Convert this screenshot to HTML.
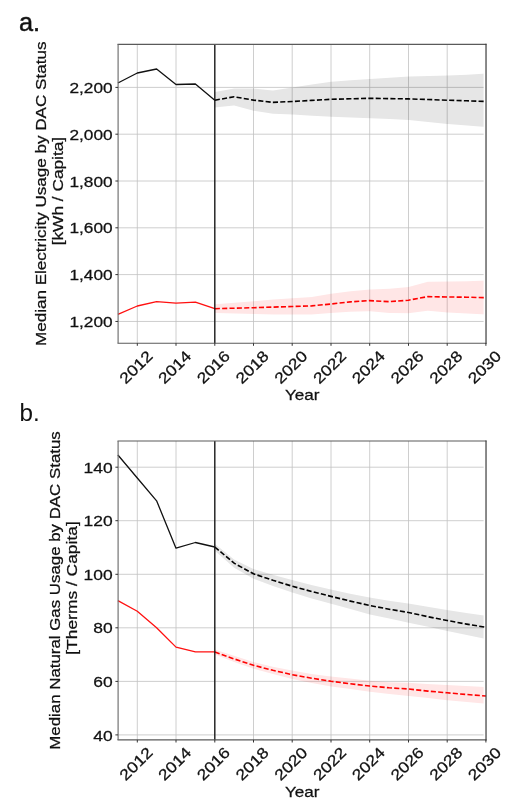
<!DOCTYPE html>
<html><head><meta charset="utf-8"><title>Figure</title>
<style>
html,body{margin:0;padding:0;background:#fff;}
body{width:520px;height:811px;overflow:hidden;font-family:"Liberation Sans",sans-serif;}
svg{display:block;}
svg text{font-family:"Liberation Sans",sans-serif;fill:#111;stroke:#111;stroke-width:0.26px;}
svg text.pl{stroke:none;}
</style></head>
<body>
<svg width="520" height="811" viewBox="0 0 520 811">
<rect width="520" height="811" fill="#fff"/>
<g opacity="0.999">
<text x="18.9" y="30.8" font-size="25.3" style="stroke-width:0.45px">a.</text>
<text class="pl" x="19.5" y="420.8" font-size="24.2">b.</text>
<line x1="137.3" y1="44.3" x2="137.3" y2="343.2" stroke="#c2c2c2" stroke-width="0.8"/>
<line x1="176.0" y1="44.3" x2="176.0" y2="343.2" stroke="#c2c2c2" stroke-width="0.8"/>
<line x1="214.8" y1="44.3" x2="214.8" y2="343.2" stroke="#c2c2c2" stroke-width="0.8"/>
<line x1="253.5" y1="44.3" x2="253.5" y2="343.2" stroke="#c2c2c2" stroke-width="0.8"/>
<line x1="292.2" y1="44.3" x2="292.2" y2="343.2" stroke="#c2c2c2" stroke-width="0.8"/>
<line x1="331.0" y1="44.3" x2="331.0" y2="343.2" stroke="#c2c2c2" stroke-width="0.8"/>
<line x1="369.7" y1="44.3" x2="369.7" y2="343.2" stroke="#c2c2c2" stroke-width="0.8"/>
<line x1="408.5" y1="44.3" x2="408.5" y2="343.2" stroke="#c2c2c2" stroke-width="0.8"/>
<line x1="447.2" y1="44.3" x2="447.2" y2="343.2" stroke="#c2c2c2" stroke-width="0.8"/>
<line x1="485.9" y1="44.3" x2="485.9" y2="343.2" stroke="#c2c2c2" stroke-width="0.8"/>
<line x1="118.0" y1="87.4" x2="486.0" y2="87.4" stroke="#c2c2c2" stroke-width="0.8"/>
<line x1="118.0" y1="134.2" x2="486.0" y2="134.2" stroke="#c2c2c2" stroke-width="0.8"/>
<line x1="118.0" y1="181.0" x2="486.0" y2="181.0" stroke="#c2c2c2" stroke-width="0.8"/>
<line x1="118.0" y1="227.8" x2="486.0" y2="227.8" stroke="#c2c2c2" stroke-width="0.8"/>
<line x1="118.0" y1="274.6" x2="486.0" y2="274.6" stroke="#c2c2c2" stroke-width="0.8"/>
<line x1="118.0" y1="321.45" x2="486.0" y2="321.45" stroke="#c2c2c2" stroke-width="0.8"/>
<polygon points="214.8,91.9 234.1,88.5 253.5,88.5 272.9,90.4 292.2,87.5 311.6,84.5 331.0,81.8 350.3,80.3 369.7,79.0 389.1,77.7 408.5,76.5 427.8,76.0 447.2,75.4 466.6,74.8 485.9,73.5 485.9,126.9 466.6,125.4 447.2,123.9 427.8,121.9 408.5,119.9 389.1,119.0 369.7,118.2 350.3,117.5 331.0,116.7 311.6,115.7 292.2,114.6 272.9,113.8 253.5,110.7 234.1,105.5 214.8,107.6" fill="#000" fill-opacity="0.1"/>
<polygon points="214.8,304.3 234.1,302.8 253.5,301.3 272.9,299.6 292.2,298.2 311.6,297.0 331.0,293.8 350.3,291.3 369.7,289.6 389.1,288.8 408.5,286.9 427.8,281.8 447.2,281.6 466.6,281.2 485.9,280.5 485.9,314.6 466.6,313.5 447.2,312.5 427.8,310.8 408.5,313.3 389.1,312.9 369.7,311.2 350.3,311.8 331.0,312.9 311.6,314.6 292.2,314.6 272.9,314.4 253.5,314.0 234.1,313.5 214.8,312.9" fill="#f00" fill-opacity="0.1"/>
<rect x="483.6" y="44.3" width="2.4" height="298.9" fill="#fff"/>
<polyline points="117.9,83.0 137.3,73.0 156.6,69.0 176.0,84.5 195.4,84.0 214.8,100.2" fill="none" stroke="#111" stroke-width="1.3" stroke-linejoin="round"/>
<polyline points="117.9,314.4 137.3,306.0 156.6,301.7 176.0,303.2 195.4,302.2 214.8,308.7" fill="none" stroke="#ff1010" stroke-width="1.3" stroke-linejoin="round"/>
<polyline points="214.8,100.2 234.1,96.8 253.5,100.1 272.9,102.4 292.2,101.5 311.6,100.4 331.0,99.3 350.3,98.8 369.7,98.3 389.1,98.6 408.5,98.9 427.8,99.5 447.2,100.2 466.6,100.8 485.9,101.5" fill="none" stroke="#000" stroke-width="1.6" stroke-dasharray="5.1 2.25"/>
<polyline points="214.8,308.7 234.1,308.2 253.5,307.7 272.9,307.1 292.2,306.5 311.6,305.9 331.0,304.0 350.3,301.9 369.7,300.6 389.1,301.7 408.5,300.2 427.8,296.6 447.2,297.0 466.6,297.2 485.9,297.7" fill="none" stroke="#f00" stroke-width="1.6" stroke-dasharray="5.1 2.25"/>
<line x1="214.8" y1="44.3" x2="214.8" y2="343.2" stroke="#111" stroke-width="1.3"/>
<line x1="117.5" y1="44.3" x2="486.5" y2="44.3" stroke="#5a5a5a" stroke-width="1.15"/>
<line x1="117.5" y1="343.2" x2="486.5" y2="343.2" stroke="#5a5a5a" stroke-width="1.15"/>
<line x1="118.1" y1="44.3" x2="118.1" y2="343.2" stroke="#6e6e6e" stroke-width="1.15"/>
<line x1="486.0" y1="43.8" x2="486.0" y2="343.7" stroke="#3c3c3c" stroke-width="1.15"/>
<line x1="137.3" y1="343.2" x2="137.3" y2="345.8" stroke="#333" stroke-width="1"/>
<line x1="176.0" y1="343.2" x2="176.0" y2="345.8" stroke="#333" stroke-width="1"/>
<line x1="214.8" y1="343.2" x2="214.8" y2="345.8" stroke="#333" stroke-width="1"/>
<line x1="253.5" y1="343.2" x2="253.5" y2="345.8" stroke="#333" stroke-width="1"/>
<line x1="292.2" y1="343.2" x2="292.2" y2="345.8" stroke="#333" stroke-width="1"/>
<line x1="331.0" y1="343.2" x2="331.0" y2="345.8" stroke="#333" stroke-width="1"/>
<line x1="369.7" y1="343.2" x2="369.7" y2="345.8" stroke="#333" stroke-width="1"/>
<line x1="408.5" y1="343.2" x2="408.5" y2="345.8" stroke="#333" stroke-width="1"/>
<line x1="447.2" y1="343.2" x2="447.2" y2="345.8" stroke="#333" stroke-width="1"/>
<line x1="485.9" y1="343.2" x2="485.9" y2="345.8" stroke="#333" stroke-width="1"/>
<line x1="115.4" y1="87.4" x2="118.0" y2="87.4" stroke="#333" stroke-width="1"/>
<line x1="115.4" y1="134.2" x2="118.0" y2="134.2" stroke="#333" stroke-width="1"/>
<line x1="115.4" y1="181.0" x2="118.0" y2="181.0" stroke="#333" stroke-width="1"/>
<line x1="115.4" y1="227.8" x2="118.0" y2="227.8" stroke="#333" stroke-width="1"/>
<line x1="115.4" y1="274.6" x2="118.0" y2="274.6" stroke="#333" stroke-width="1"/>
<line x1="115.4" y1="321.45" x2="118.0" y2="321.45" stroke="#333" stroke-width="1"/>
<text x="112.6" y="93.0" text-anchor="end" font-size="15.3" textLength="43.2" lengthAdjust="spacingAndGlyphs">2,200</text>
<text x="112.6" y="139.8" text-anchor="end" font-size="15.3" textLength="43.2" lengthAdjust="spacingAndGlyphs">2,000</text>
<text x="112.6" y="186.6" text-anchor="end" font-size="15.3" textLength="43.2" lengthAdjust="spacingAndGlyphs">1,800</text>
<text x="112.6" y="233.4" text-anchor="end" font-size="15.3" textLength="43.2" lengthAdjust="spacingAndGlyphs">1,600</text>
<text x="112.6" y="280.2" text-anchor="end" font-size="15.3" textLength="43.2" lengthAdjust="spacingAndGlyphs">1,400</text>
<text x="112.6" y="327.1" text-anchor="end" font-size="15.3" textLength="43.2" lengthAdjust="spacingAndGlyphs">1,200</text>
<text transform="translate(135.8,367.0) rotate(-45)" x="0" y="5.5" text-anchor="middle" font-size="15.3" textLength="39.4" lengthAdjust="spacingAndGlyphs">2012</text>
<text transform="translate(174.5,367.0) rotate(-45)" x="0" y="5.5" text-anchor="middle" font-size="15.3" textLength="39.4" lengthAdjust="spacingAndGlyphs">2014</text>
<text transform="translate(213.2,367.0) rotate(-45)" x="0" y="5.5" text-anchor="middle" font-size="15.3" textLength="39.4" lengthAdjust="spacingAndGlyphs">2016</text>
<text transform="translate(252.0,367.0) rotate(-45)" x="0" y="5.5" text-anchor="middle" font-size="15.3" textLength="39.4" lengthAdjust="spacingAndGlyphs">2018</text>
<text transform="translate(290.7,367.0) rotate(-45)" x="0" y="5.5" text-anchor="middle" font-size="15.3" textLength="39.4" lengthAdjust="spacingAndGlyphs">2020</text>
<text transform="translate(329.5,367.0) rotate(-45)" x="0" y="5.5" text-anchor="middle" font-size="15.3" textLength="39.4" lengthAdjust="spacingAndGlyphs">2022</text>
<text transform="translate(368.2,367.0) rotate(-45)" x="0" y="5.5" text-anchor="middle" font-size="15.3" textLength="39.4" lengthAdjust="spacingAndGlyphs">2024</text>
<text transform="translate(407.0,367.0) rotate(-45)" x="0" y="5.5" text-anchor="middle" font-size="15.3" textLength="39.4" lengthAdjust="spacingAndGlyphs">2026</text>
<text transform="translate(445.7,367.0) rotate(-45)" x="0" y="5.5" text-anchor="middle" font-size="15.3" textLength="39.4" lengthAdjust="spacingAndGlyphs">2028</text>
<text transform="translate(484.4,367.0) rotate(-45)" x="0" y="5.5" text-anchor="middle" font-size="15.3" textLength="39.4" lengthAdjust="spacingAndGlyphs">2030</text>
<text x="302.2" y="400.4" text-anchor="middle" font-size="15.3" textLength="34.6" lengthAdjust="spacingAndGlyphs">Year</text>
<text transform="translate(46.0,193.8) rotate(-90)" text-anchor="middle" font-size="15.3" textLength="304.5" lengthAdjust="spacingAndGlyphs">Median Electricity Usage by DAC Status</text>
<text transform="translate(63.2,191.1) rotate(-90)" text-anchor="middle" font-size="15.3" textLength="108.5" lengthAdjust="spacingAndGlyphs">[kWh / Capita]</text>
<line x1="137.3" y1="441.0" x2="137.3" y2="739.9" stroke="#c2c2c2" stroke-width="0.8"/>
<line x1="176.0" y1="441.0" x2="176.0" y2="739.9" stroke="#c2c2c2" stroke-width="0.8"/>
<line x1="214.8" y1="441.0" x2="214.8" y2="739.9" stroke="#c2c2c2" stroke-width="0.8"/>
<line x1="253.5" y1="441.0" x2="253.5" y2="739.9" stroke="#c2c2c2" stroke-width="0.8"/>
<line x1="292.2" y1="441.0" x2="292.2" y2="739.9" stroke="#c2c2c2" stroke-width="0.8"/>
<line x1="331.0" y1="441.0" x2="331.0" y2="739.9" stroke="#c2c2c2" stroke-width="0.8"/>
<line x1="369.7" y1="441.0" x2="369.7" y2="739.9" stroke="#c2c2c2" stroke-width="0.8"/>
<line x1="408.5" y1="441.0" x2="408.5" y2="739.9" stroke="#c2c2c2" stroke-width="0.8"/>
<line x1="447.2" y1="441.0" x2="447.2" y2="739.9" stroke="#c2c2c2" stroke-width="0.8"/>
<line x1="485.9" y1="441.0" x2="485.9" y2="739.9" stroke="#c2c2c2" stroke-width="0.8"/>
<line x1="118.0" y1="467.2" x2="486.0" y2="467.2" stroke="#c2c2c2" stroke-width="0.8"/>
<line x1="118.0" y1="520.7" x2="486.0" y2="520.7" stroke="#c2c2c2" stroke-width="0.8"/>
<line x1="118.0" y1="574.3" x2="486.0" y2="574.3" stroke="#c2c2c2" stroke-width="0.8"/>
<line x1="118.0" y1="627.8" x2="486.0" y2="627.8" stroke="#c2c2c2" stroke-width="0.8"/>
<line x1="118.0" y1="681.4" x2="486.0" y2="681.4" stroke="#c2c2c2" stroke-width="0.8"/>
<line x1="118.0" y1="734.9" x2="486.0" y2="734.9" stroke="#c2c2c2" stroke-width="0.8"/>
<polygon points="214.8,543.8 234.1,559.6 253.5,569.1 272.9,574.8 292.2,580.1 311.6,584.9 331.0,589.5 350.3,593.7 369.7,597.5 389.1,600.7 408.5,603.6 427.8,606.8 447.2,610.0 466.6,612.9 485.9,615.7 485.9,638.9 466.6,635.1 447.2,631.1 427.8,626.7 408.5,622.7 389.1,618.5 369.7,614.4 350.3,609.1 331.0,603.8 311.6,598.4 292.2,592.5 272.9,586.1 253.5,578.7 234.1,567.7 214.8,550.7" fill="#000" fill-opacity="0.1"/>
<polygon points="214.8,649.6 234.1,655.7 253.5,661.9 272.9,666.7 292.2,670.5 311.6,673.9 331.0,676.4 350.3,678.6 369.7,680.7 389.1,682.2 408.5,682.8 427.8,683.9 447.2,685.0 466.6,686.0 485.9,686.9 485.9,703.8 466.6,701.9 447.2,700.2 427.8,698.1 408.5,696.0 389.1,693.9 369.7,691.7 350.3,689.1 331.0,686.4 311.6,682.9 292.2,678.9 272.9,674.1 253.5,668.8 234.1,662.1 214.8,654.5" fill="#f00" fill-opacity="0.1"/>
<rect x="483.6" y="441.0" width="2.4" height="298.9" fill="#fff"/>
<polyline points="117.9,455.0 137.3,478.0 156.6,500.8 176.0,548.2 195.4,542.5 214.8,547.0" fill="none" stroke="#111" stroke-width="1.3" stroke-linejoin="round"/>
<polyline points="117.9,600.6 137.3,611.2 156.6,627.7 176.0,647.1 195.4,651.8 214.8,651.8" fill="none" stroke="#ff1010" stroke-width="1.3" stroke-linejoin="round"/>
<polyline points="214.8,547.0 234.1,563.2 253.5,573.8 272.9,580.3 292.2,586.2 311.6,591.5 331.0,596.4 350.3,601.1 369.7,605.5 389.1,609.2 408.5,612.5 427.8,616.7 447.2,620.5 466.6,624.1 485.9,627.3" fill="none" stroke="#000" stroke-width="1.6" stroke-dasharray="5.1 2.25"/>
<polyline points="214.8,651.9 234.1,658.9 253.5,665.3 272.9,670.3 292.2,674.7 311.6,678.2 331.0,681.3 350.3,683.8 369.7,686.0 389.1,687.8 408.5,689.0 427.8,691.1 447.2,692.8 466.6,694.5 485.9,696.0" fill="none" stroke="#f00" stroke-width="1.6" stroke-dasharray="5.1 2.25"/>
<line x1="214.8" y1="441.0" x2="214.8" y2="739.9" stroke="#111" stroke-width="1.3"/>
<line x1="117.5" y1="441.0" x2="486.5" y2="441.0" stroke="#5a5a5a" stroke-width="1.15"/>
<line x1="117.5" y1="739.9" x2="486.5" y2="739.9" stroke="#5a5a5a" stroke-width="1.15"/>
<line x1="118.1" y1="441.0" x2="118.1" y2="739.9" stroke="#6e6e6e" stroke-width="1.15"/>
<line x1="486.0" y1="440.5" x2="486.0" y2="740.4" stroke="#3c3c3c" stroke-width="1.15"/>
<line x1="137.3" y1="739.9" x2="137.3" y2="742.5" stroke="#333" stroke-width="1"/>
<line x1="176.0" y1="739.9" x2="176.0" y2="742.5" stroke="#333" stroke-width="1"/>
<line x1="214.8" y1="739.9" x2="214.8" y2="742.5" stroke="#333" stroke-width="1"/>
<line x1="253.5" y1="739.9" x2="253.5" y2="742.5" stroke="#333" stroke-width="1"/>
<line x1="292.2" y1="739.9" x2="292.2" y2="742.5" stroke="#333" stroke-width="1"/>
<line x1="331.0" y1="739.9" x2="331.0" y2="742.5" stroke="#333" stroke-width="1"/>
<line x1="369.7" y1="739.9" x2="369.7" y2="742.5" stroke="#333" stroke-width="1"/>
<line x1="408.5" y1="739.9" x2="408.5" y2="742.5" stroke="#333" stroke-width="1"/>
<line x1="447.2" y1="739.9" x2="447.2" y2="742.5" stroke="#333" stroke-width="1"/>
<line x1="485.9" y1="739.9" x2="485.9" y2="742.5" stroke="#333" stroke-width="1"/>
<line x1="115.4" y1="467.2" x2="118.0" y2="467.2" stroke="#333" stroke-width="1"/>
<line x1="115.4" y1="520.7" x2="118.0" y2="520.7" stroke="#333" stroke-width="1"/>
<line x1="115.4" y1="574.3" x2="118.0" y2="574.3" stroke="#333" stroke-width="1"/>
<line x1="115.4" y1="627.8" x2="118.0" y2="627.8" stroke="#333" stroke-width="1"/>
<line x1="115.4" y1="681.4" x2="118.0" y2="681.4" stroke="#333" stroke-width="1"/>
<line x1="115.4" y1="734.9" x2="118.0" y2="734.9" stroke="#333" stroke-width="1"/>
<text x="112.6" y="472.8" text-anchor="end" font-size="15.3" textLength="29.099999999999998" lengthAdjust="spacingAndGlyphs">140</text>
<text x="112.6" y="526.3" text-anchor="end" font-size="15.3" textLength="29.099999999999998" lengthAdjust="spacingAndGlyphs">120</text>
<text x="112.6" y="579.9" text-anchor="end" font-size="15.3" textLength="29.099999999999998" lengthAdjust="spacingAndGlyphs">100</text>
<text x="112.6" y="633.4" text-anchor="end" font-size="15.3" textLength="19.4" lengthAdjust="spacingAndGlyphs">80</text>
<text x="112.6" y="687.0" text-anchor="end" font-size="15.3" textLength="19.4" lengthAdjust="spacingAndGlyphs">60</text>
<text x="112.6" y="740.5" text-anchor="end" font-size="15.3" textLength="19.4" lengthAdjust="spacingAndGlyphs">40</text>
<text transform="translate(135.8,763.7) rotate(-45)" x="0" y="5.5" text-anchor="middle" font-size="15.3" textLength="39.4" lengthAdjust="spacingAndGlyphs">2012</text>
<text transform="translate(174.5,763.7) rotate(-45)" x="0" y="5.5" text-anchor="middle" font-size="15.3" textLength="39.4" lengthAdjust="spacingAndGlyphs">2014</text>
<text transform="translate(213.2,763.7) rotate(-45)" x="0" y="5.5" text-anchor="middle" font-size="15.3" textLength="39.4" lengthAdjust="spacingAndGlyphs">2016</text>
<text transform="translate(252.0,763.7) rotate(-45)" x="0" y="5.5" text-anchor="middle" font-size="15.3" textLength="39.4" lengthAdjust="spacingAndGlyphs">2018</text>
<text transform="translate(290.7,763.7) rotate(-45)" x="0" y="5.5" text-anchor="middle" font-size="15.3" textLength="39.4" lengthAdjust="spacingAndGlyphs">2020</text>
<text transform="translate(329.5,763.7) rotate(-45)" x="0" y="5.5" text-anchor="middle" font-size="15.3" textLength="39.4" lengthAdjust="spacingAndGlyphs">2022</text>
<text transform="translate(368.2,763.7) rotate(-45)" x="0" y="5.5" text-anchor="middle" font-size="15.3" textLength="39.4" lengthAdjust="spacingAndGlyphs">2024</text>
<text transform="translate(407.0,763.7) rotate(-45)" x="0" y="5.5" text-anchor="middle" font-size="15.3" textLength="39.4" lengthAdjust="spacingAndGlyphs">2026</text>
<text transform="translate(445.7,763.7) rotate(-45)" x="0" y="5.5" text-anchor="middle" font-size="15.3" textLength="39.4" lengthAdjust="spacingAndGlyphs">2028</text>
<text transform="translate(484.4,763.7) rotate(-45)" x="0" y="5.5" text-anchor="middle" font-size="15.3" textLength="39.4" lengthAdjust="spacingAndGlyphs">2030</text>
<text x="302.2" y="797.1" text-anchor="middle" font-size="15.3" textLength="34.6" lengthAdjust="spacingAndGlyphs">Year</text>
<text transform="translate(60.0,590.5) rotate(-90)" text-anchor="middle" font-size="15.3" textLength="318.5" lengthAdjust="spacingAndGlyphs">Median Natural Gas Usage by DAC Status</text>
<text transform="translate(77.4,588.0) rotate(-90)" text-anchor="middle" font-size="15.3" textLength="133.5" lengthAdjust="spacingAndGlyphs">[Therms / Capita]</text>
</g>
</svg>
</body></html>
